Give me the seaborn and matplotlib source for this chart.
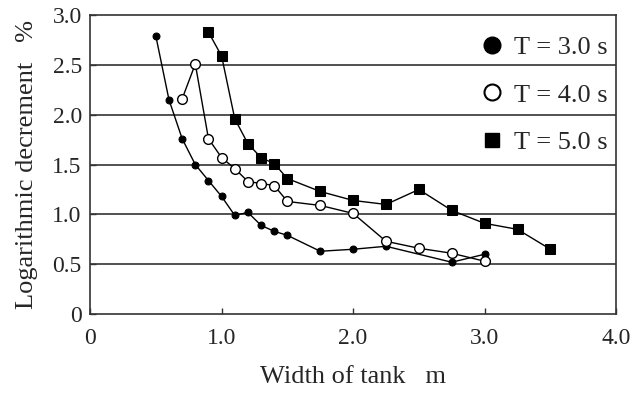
import matplotlib
matplotlib.use("Agg")
import matplotlib.pyplot as plt
import seaborn as sns
from matplotlib.lines import Line2D

# data
w_30 = [0.5, 0.6, 0.7, 0.8, 0.9, 1.0, 1.1, 1.2, 1.3, 1.4, 1.5, 1.75, 2.0, 2.25, 2.75, 3.0]
d_30 = [2.79, 2.15, 1.76, 1.50, 1.34, 1.18, 0.99, 1.02, 0.89, 0.83, 0.79, 0.63, 0.65, 0.68, 0.52, 0.60]

w_40 = [0.7, 0.8, 0.9, 1.0, 1.1, 1.2, 1.3, 1.4, 1.5, 1.75, 2.0, 2.25, 2.5, 2.75, 3.0]
d_40 = [2.16, 2.51, 1.76, 1.57, 1.46, 1.33, 1.31, 1.29, 1.13, 1.09, 1.01, 0.73, 0.66, 0.61, 0.53]

w_50 = [0.9, 1.0, 1.1, 1.2, 1.3, 1.4, 1.5, 1.75, 2.0, 2.25, 2.5, 2.75, 3.0, 3.25, 3.5]
d_50 = [2.83, 2.59, 1.96, 1.71, 1.57, 1.51, 1.36, 1.23, 1.14, 1.10, 1.25, 1.04, 0.91, 0.85, 0.65]

labels = ["T = 3.0 s", "T = 4.0 s", "T = 5.0 s"]
x_ticks = [0, 1.0, 2.0, 3.0, 4.0]
x_tick_labels = ["0", "1.0", "2.0", "3.0", "4.0"]
y_ticks = [0, 0.5, 1.0, 1.5, 2.0, 2.5, 3.0]
y_tick_labels = ["0", "0.5", "1.0", "1.5", "2.0", "2.5", "3.0"]

sns.set_theme(style="white")
plt.rcParams['font.family'] = ['Liberation Serif', 'DejaVu Serif']

fig = plt.figure(figsize=(6.3, 3.99), dpi=100)
ax = fig.add_axes([0.143, 0.213, 0.835, 0.749])

for y in y_ticks[1:-1]:
    ax.axhline(y, color="#333333", lw=1.2, zorder=0)

sns.lineplot(x=w_30, y=d_30, ax=ax, color="black", lw=1, marker="o",
             markersize=5, markeredgecolor="black", markerfacecolor="black")
sns.lineplot(x=w_40, y=d_40, ax=ax, color="black", lw=1, marker="o",
             markersize=7, markeredgecolor="black", markerfacecolor="white",
             markeredgewidth=1)
sns.lineplot(x=w_50, y=d_50, ax=ax, color="black", lw=1, marker="s",
             markersize=6.5, markeredgecolor="black", markerfacecolor="black")

ax.set_xlim(0, 4.0)
ax.set_ylim(0, 3.0)
ax.set_xticks(x_ticks)
ax.set_xticklabels(x_tick_labels, fontsize=17)
ax.set_yticks(y_ticks)
ax.set_yticklabels(y_tick_labels, fontsize=17)
ax.tick_params(direction="in", length=4, width=1, color="#333333",
               bottom=True, left=True)
ax.tick_params(axis="x", pad=10)
ax.tick_params(axis="y", pad=6)
for s in ax.spines.values():
    s.set_color("#333333")
    s.set_linewidth(1.2)

ax.set_xlabel("Width of tank   m", fontsize=19, labelpad=12)
ax.set_ylabel("Logarithmic decrement   %", fontsize=19, labelpad=10)

handles = [
    Line2D([], [], ls="none", marker="o", ms=12, color="black"),
    Line2D([], [], ls="none", marker="o", ms=11.5, mfc="white", mec="black", mew=1.5),
    Line2D([], [], ls="none", marker="s", ms=10, color="black"),
]
ax.legend(handles, labels, loc="upper right", frameon=False, fontsize=19,
          labelspacing=0.9, handletextpad=0.3, handlelength=1.0,
          borderaxespad=0.1, bbox_to_anchor=(1.008, 0.975))

fig.savefig("out.png", dpi=100)
